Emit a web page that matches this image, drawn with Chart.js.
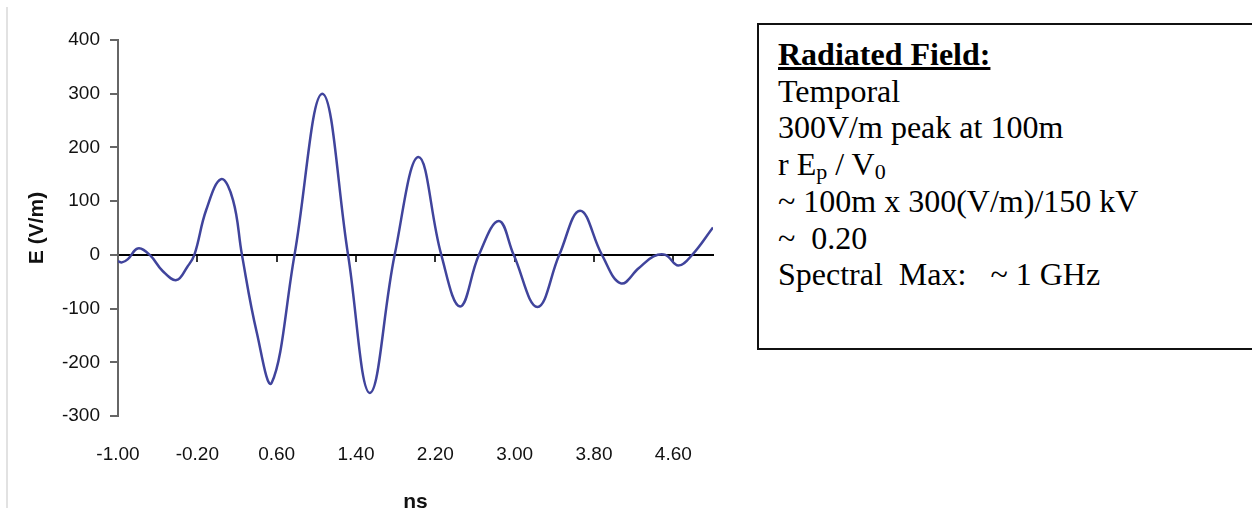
<!DOCTYPE html>
<html>
<head>
<meta charset="utf-8">
<script src="https://cdn.jsdelivr.net/npm/chart.js@4"></script>
<style>
  body { margin: 0; background: #fff; width: 1252px; height: 518px; overflow: hidden; position: relative; }
  #edge { position: absolute; left: 6px; top: 7px; width: 0; height: 501px; border-left: 2px solid #e2e2e2; }
  #wrap { position: absolute; left: 0; top: 0; width: 740px; height: 518px; }
  #note {
    position: absolute; left: 757px; top: 23px; width: 520px; height: 312px;
    border: 2px solid #111; border-right: none;
    padding: 11px 0 0 19px; box-sizing: content-box;
    font-family: "Liberation Serif", "Times New Roman", serif; font-size: 32px; line-height: 36.7px;
    color: #000; white-space: pre;
  }
  #note .hd { font-weight: bold; text-decoration: underline; text-decoration-thickness: 3px; }
  #note sub { font-size: 22px; line-height: 0; vertical-align: -4px; }
</style>
</head>
<body>
<div id="edge"></div>
<div id="wrap"><canvas id="myChart" width="740" height="518"></canvas></div>
<div id="note"><span class="hd">Radiated Field:</span>
Temporal
300V/m peak at 100m
r E<sub>p</sub> / V<sub>0</sub>
~ 100m x 300(V/m)/150 kV
~  0.20
Spectral  Max:   ~ 1 GHz</div>
<script>
// time in ns, field in V/m (peaks, troughs, zero crossings, flanks)
let times = [-1.00,-0.96,-0.90,-0.80,-0.68,-0.55,-0.41,-0.30,-0.23,-0.11,
  0.04,0.16,0.25,0.40,0.55,0.78,1.06,1.32,1.54,1.79,
  2.03,2.26,2.45,2.64,2.84,2.99,3.23,3.45,3.66,3.88,
  4.07,4.25,4.40,4.52,4.65,4.79,5.00];
let field = [-12,-14,-8,12,0,-30,-47,-22,0,84,
  141,102,0,-145,-238,0,300,0,-257,0,
  182,0,-96,0,63,0,-97,0,82,0,
  -53,-25,-3,0,-20,0,51];
let xTickLabels = ['-1.00','-0.20','0.60','1.40','2.20','3.00','3.80','4.60'];
let yTicks = [-300,-200,-100,0,100,200,300,400];

let tickFont = {family: "'Liberation Sans', Arial, sans-serif", size: 19};
let titleFont = {family: "'Liberation Sans', Arial, sans-serif", size: 21, weight: 'bold'};

let mychart = document.getElementById("myChart").getContext('2d');
let chart = new Chart(mychart, {
  type: 'line',
  data: {
    datasets: [{
      label: 'E',
      data: times.map((t, i) => ({x: t, y: field[i]})),
      borderColor: '#40449c',
      borderWidth: 2.5,
      pointRadius: 0,
      tension: 0.4,
      fill: false
    }]
  },
  options: {
    responsive: false,
    animation: false,
    layout: {padding: {top: 40, right: 27, bottom: 0, left: 0}},
    plugins: {legend: {display: false}, tooltip: {enabled: false}},
    scales: {
      x: {
        type: 'linear', position: 'bottom', min: -1, max: 5,
        afterBuildTicks: s => { s.ticks = xTickLabels.map(l => ({value: parseFloat(l)})); },
        afterFit: s => { s.height = 102; },
        ticks: {
          font: tickFont, color: '#111', padding: 27, maxRotation: 0, autoSkip: false,
          callback: (v, i) => xTickLabels[i]
        },
        grid: {display: false, drawTicks: false},
        border: {display: false},
        title: {display: true, text: 'ns', font: titleFont, color: '#111', padding: {top: 0, bottom: 3}}
      },
      x2: {
        type: 'linear', axis: 'x', position: {y: 0}, min: -1, max: 5,
        afterBuildTicks: s => { s.ticks = xTickLabels.slice(1).map(l => ({value: parseFloat(l)})); },
        ticks: {display: false},
        grid: {drawOnChartArea: false, drawTicks: true, tickLength: 6, color: '#333', lineWidth: 2},
        border: {display: true, color: '#000', width: 2}
      },
      y: {
        type: 'linear', min: -300, max: 400,
        afterBuildTicks: s => { s.ticks = yTicks.map(v => ({value: v})); },
        afterFit: s => { s.width = 118; },
        ticks: {font: tickFont, color: '#111', padding: 10},
        grid: {drawOnChartArea: false, drawTicks: true, tickLength: 8, color: '#666', lineWidth: 2},
        border: {display: true, color: '#666', width: 2},
        title: {display: true, text: 'E (V/m)', font: titleFont, color: '#111', padding: {top: 25, bottom: 0}}
      }
    }
  }
});
</script>
</body>
</html>
